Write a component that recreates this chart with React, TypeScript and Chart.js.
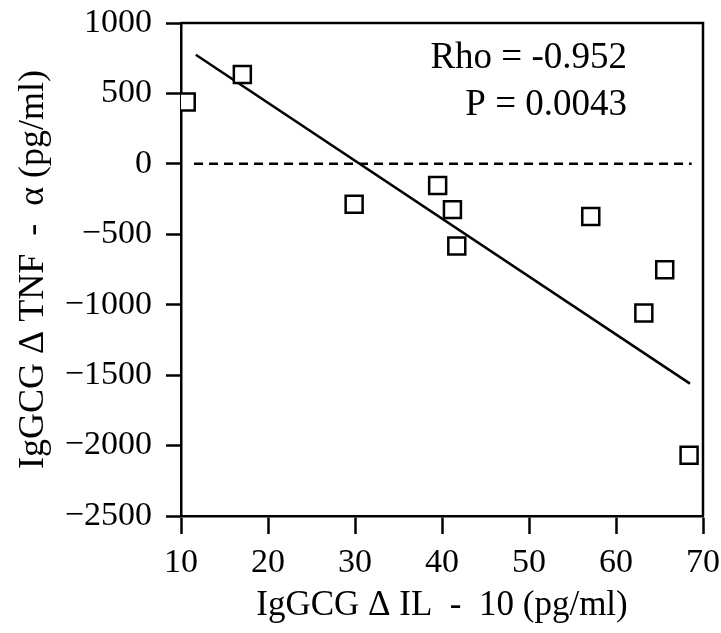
import React, { useEffect, useRef } from 'react';
import { Chart, registerables } from 'chart.js';

Chart.register(...registerables);

// Data
const il10Delta = [10.6, 17.05, 29.9, 39.5, 41.2, 41.7, 57.1, 63.2, 65.6, 68.4];
const tnfDelta = [439, 635, -287, -153, -325, -583, -373, -1059, -751, -2069];
const fitX = [11.7, 68.5];
const fitY = [775, -1560];
const zeroLineX = [11.5, 68.7];
const zeroLineY = [0, 0];
const xTickValues = [10, 20, 30, 40, 50, 60, 70];
const yTickValues = [1000, 500, 0, -500, -1000, -1500, -2000, -2500];
const statLines = ['Rho = -0.952', 'P = 0.0043'];
const xTitle = 'IgGCG \u0394 IL  -  10 (pg/ml)';
const yTitle = 'IgGCG \u0394 TNF  -  \u03b1 (pg/ml)';

const SERIF = '"Liberation Serif", "Times New Roman", serif';

const framePlugin = {
  id: 'frame',
  afterDraw(chart: any) {
    const { ctx, chartArea } = chart;
    ctx.save();
    ctx.strokeStyle = '#000';
    ctx.lineWidth = 2.5;
    ctx.beginPath();
    ctx.moveTo(chartArea.left, chartArea.top);
    ctx.lineTo(chartArea.right, chartArea.top);
    ctx.lineTo(chartArea.right, chartArea.bottom);
    ctx.stroke();
    ctx.restore();
  },
};

const statsPlugin = {
  id: 'stats',
  afterDraw(chart: any) {
    const { ctx, chartArea } = chart;
    ctx.save();
    ctx.fillStyle = '#000';
    ctx.font = `37px ${SERIF}`;
    ctx.textAlign = 'right';
    ctx.textBaseline = 'middle';
    statLines.forEach((t, i) => {
      ctx.fillText(t, chartArea.right - 76, chartArea.top + 35 + i * 47);
    });
    ctx.restore();
  },
};

export default function App() {
  const ref = useRef<HTMLCanvasElement | null>(null);

  useEffect(() => {
    if (!ref.current) return;
    const chart = new Chart(ref.current, {
      type: 'scatter',
      data: {
        datasets: [
          {
            type: 'line',
            data: zeroLineX.map((x, i) => ({ x, y: zeroLineY[i] })),
            borderColor: '#000',
            borderWidth: 2.5,
            borderDash: [9, 6],
            pointRadius: 0,
            fill: false,
            order: 3,
          },
          {
            type: 'line',
            data: fitX.map((x, i) => ({ x, y: fitY[i] })),
            borderColor: '#000',
            borderWidth: 2.5,
            pointRadius: 0,
            fill: false,
            order: 2,
          },
          {
            type: 'scatter',
            data: il10Delta.map((x, i) => ({ x, y: tnfDelta[i] })),
            pointStyle: 'rect',
            pointRadius: 12,
            pointBorderWidth: 2.5,
            borderColor: '#000',
            backgroundColor: '#fff',
            order: 1,
          },
        ],
      },
      options: {
        responsive: false,
        animation: false,
        events: [],
        layout: { padding: { left: 0, top: 23, right: 18, bottom: 0 } },
        plugins: { legend: { display: false }, tooltip: { enabled: false } },
        scales: {
          x: {
            type: 'linear',
            min: xTickValues[0],
            max: xTickValues[xTickValues.length - 1],
            afterBuildTicks: (s: any) => {
              s.ticks = xTickValues.map((v) => ({ value: v }));
            },
            afterFit: (s: any) => {
              s.height = 117;
              s.paddingLeft = 0;
              s.paddingRight = 0;
            },
            border: { display: true, color: '#000', width: 2.5 },
            grid: {
              display: true,
              drawOnChartArea: false,
              drawTicks: true,
              tickLength: 18,
              tickWidth: 2.5,
              tickColor: '#000',
            },
            ticks: {
              color: '#000',
              font: { family: SERIF, size: 34 },
              padding: 9,
              maxRotation: 0,
              callback: (v: any) => String(v),
            },
            title: {
              display: true,
              text: xTitle,
              color: '#000',
              font: { family: SERIF, size: 35 },
              padding: { top: 0, bottom: 6 },
            },
          },
          y: {
            type: 'linear',
            min: yTickValues[yTickValues.length - 1],
            max: yTickValues[0],
            afterBuildTicks: (s: any) => {
              s.ticks = yTickValues.slice().reverse().map((v) => ({ value: v }));
            },
            afterFit: (s: any) => {
              s.width = 181;
              s.paddingTop = 0;
              s.paddingBottom = 0;
            },
            border: { display: true, color: '#000', width: 2.5 },
            grid: {
              display: true,
              drawOnChartArea: false,
              drawTicks: true,
              tickLength: 15,
              tickWidth: 2.5,
              tickColor: '#000',
            },
            ticks: {
              color: '#000',
              font: { family: SERIF, size: 34 },
              padding: 14,
              callback: (v: any) => String(v).replace('-', '\u2212'),
            },
            title: {
              display: true,
              text: yTitle,
              color: '#000',
              font: { family: SERIF, size: 36 },
              padding: { top: 12, bottom: 0 },
            },
          },
        },
      },
      plugins: [framePlugin, statsPlugin],
    });
    return () => chart.destroy();
  }, []);

  return (
    <div style={{ position: 'absolute', left: 0, top: 0, width: 721, height: 633, background: '#fff' }}>
      <canvas ref={ref} width={721} height={633} style={{ display: 'block' }} />
    </div>
  );
}
